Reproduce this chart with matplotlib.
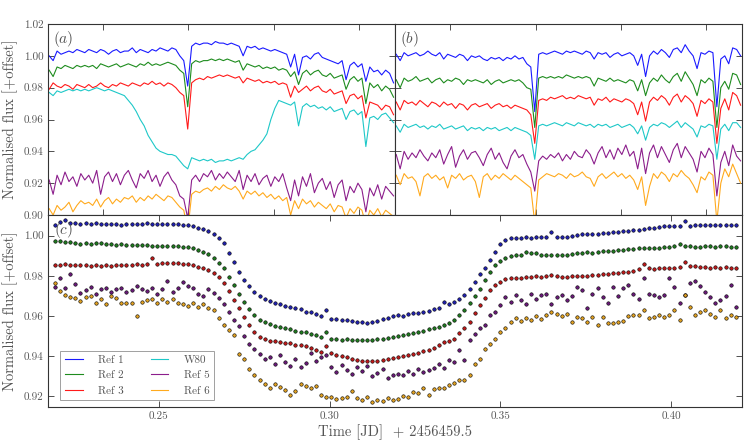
import numpy as np
import matplotlib
matplotlib.use("Agg")
import matplotlib.pyplot as plt

plt.rcParams["font.family"] = "cmr10"
plt.rcParams["mathtext.fontset"] = "cm"
plt.rcParams["axes.formatter.use_mathtext"] = True

# ---- panel (a): raw light curves, offset ----
ref1_a = [1.000, 0.997, 1.003, 1.001, 1.002, 1.003, 1.002, 1.004, 1.003, 1.002,
          1.004, 1.003, 1.002, 1.004, 1.003, 1.001, 1.003, 1.004, 1.002, 1.003,
          1.003, 1.005, 1.002, 1.004, 1.003, 1.002, 1.004, 1.003, 1.005, 1.004,
          1.003, 1.005, 1.004, 1.000, 0.997, 0.981, 1.006, 1.008, 1.007, 1.008,
          1.008, 1.007, 1.009, 1.008, 1.008, 1.007, 1.008, 1.007, 1.006, 1.000,
          1.006, 1.005, 1.006, 1.004, 1.005, 1.004, 1.003, 1.004, 1.003, 1.002,
          1.001, 0.993, 1.001, 0.988, 0.999, 1.000, 0.998, 1.001, 1.002, 0.999,
          0.998, 0.997, 0.996, 0.995, 0.997, 0.985, 0.994, 0.996, 0.993, 0.995,
          0.984, 0.993, 0.990, 0.991, 0.988, 0.991, 0.989, 0.983]
ref2_a = [0.991, 0.987, 0.993, 0.992, 0.994, 0.993, 0.992, 0.994, 0.993, 0.994,
          0.993, 0.994, 0.992, 0.995, 0.994, 0.993, 0.994, 0.995, 0.993, 0.994,
          0.995, 0.994, 0.993, 0.995, 0.994, 0.996, 0.994, 0.995, 0.994, 0.995,
          0.996, 0.995, 0.994, 0.991, 0.989, 0.968, 0.995, 0.997, 0.996, 0.997,
          0.997, 0.998, 0.997, 0.998, 0.997, 0.998, 0.997, 0.996, 0.997, 0.991,
          0.995, 0.994, 0.993, 0.994, 0.992, 0.993, 0.992, 0.993, 0.991, 0.992,
          0.991, 0.987, 0.990, 0.982, 0.989, 0.991, 0.988, 0.990, 0.991, 0.988,
          0.987, 0.989, 0.986, 0.987, 0.988, 0.979, 0.985, 0.987, 0.984, 0.986,
          0.970, 0.983, 0.980, 0.982, 0.978, 0.981, 0.979, 0.974]
ref3_a = [0.979, 0.983, 0.981, 0.980, 0.982, 0.981, 0.979, 0.982, 0.981, 0.980,
          0.982, 0.980, 0.981, 0.983, 0.981, 0.980, 0.982, 0.981, 0.983, 0.982,
          0.981, 0.983, 0.982, 0.981, 0.983, 0.982, 0.984, 0.982, 0.983, 0.981,
          0.983, 0.982, 0.980, 0.977, 0.975, 0.954, 0.983, 0.985, 0.986, 0.985,
          0.987, 0.986, 0.987, 0.988, 0.987, 0.988, 0.987, 0.986, 0.987, 0.983,
          0.986, 0.985, 0.984, 0.985, 0.983, 0.984, 0.983, 0.984, 0.982, 0.983,
          0.982, 0.974, 0.981, 0.977, 0.979, 0.981, 0.978, 0.980, 0.981, 0.978,
          0.977, 0.979, 0.976, 0.977, 0.978, 0.970, 0.975, 0.976, 0.973, 0.975,
          0.961, 0.971, 0.970, 0.969, 0.966, 0.969, 0.968, 0.963]
w80_a = [0.977, 0.975, 0.978, 0.977, 0.978, 0.979, 0.978, 0.979, 0.978, 0.979,
         0.978, 0.979, 0.980, 0.979, 0.978, 0.979, 0.978, 0.977, 0.976, 0.975,
         0.972, 0.969, 0.965, 0.960, 0.956, 0.950, 0.946, 0.942, 0.940, 0.939,
         0.938, 0.938, 0.937, 0.934, 0.931, 0.929, 0.936, 0.935, 0.934, 0.935,
         0.934, 0.935, 0.933, 0.934, 0.934, 0.935, 0.934, 0.935, 0.936, 0.935,
         0.938, 0.940, 0.941, 0.944, 0.947, 0.951, 0.960, 0.967, 0.972, 0.971,
         0.970, 0.969, 0.971, 0.956, 0.968, 0.970, 0.968, 0.969, 0.967, 0.968,
         0.966, 0.968, 0.965, 0.966, 0.967, 0.960, 0.965, 0.966, 0.963, 0.965,
         0.943, 0.961, 0.962, 0.960, 0.963, 0.964, 0.961, 0.958]
ref5_a = [0.922, 0.913, 0.925, 0.919, 0.927, 0.921, 0.924, 0.918, 0.926, 0.922,
          0.925, 0.920, 0.928, 0.913, 0.924, 0.927, 0.921, 0.926, 0.919, 0.925,
          0.928, 0.922, 0.917, 0.926, 0.923, 0.928, 0.921, 0.925, 0.918, 0.924,
          0.927, 0.922, 0.919, 0.912, 0.910, 0.898, 0.922, 0.925, 0.921, 0.926,
          0.924, 0.928, 0.922, 0.926, 0.923, 0.927, 0.924, 0.921, 0.928, 0.916,
          0.925, 0.921, 0.926, 0.919, 0.923, 0.925, 0.918, 0.924, 0.921, 0.926,
          0.917, 0.909, 0.922, 0.912, 0.924, 0.918, 0.926, 0.914, 0.920, 0.923,
          0.916, 0.921, 0.911, 0.919, 0.922, 0.909, 0.918, 0.914, 0.920, 0.916,
          0.902, 0.917, 0.912, 0.919, 0.910, 0.918, 0.915, 0.912]
ref6_a = [0.904, 0.900, 0.906, 0.903, 0.905, 0.908, 0.902, 0.906, 0.909, 0.907,
          0.908, 0.906, 0.910, 0.905, 0.909, 0.911, 0.907, 0.910, 0.908, 0.911,
          0.910, 0.912, 0.908, 0.911, 0.909, 0.912, 0.910, 0.913, 0.911, 0.909,
          0.912, 0.911, 0.908, 0.905, 0.903, 0.890, 0.913, 0.915, 0.914, 0.916,
          0.917, 0.915, 0.918, 0.916, 0.919, 0.917, 0.916, 0.918, 0.915, 0.910,
          0.915, 0.913, 0.915, 0.912, 0.914, 0.911, 0.913, 0.910, 0.912, 0.909,
          0.911, 0.900, 0.909, 0.904, 0.910, 0.907, 0.909, 0.905, 0.908, 0.906,
          0.904, 0.907, 0.902, 0.906, 0.905, 0.898, 0.904, 0.901, 0.905, 0.903,
          0.894, 0.903, 0.900, 0.904, 0.899, 0.903, 0.901, 0.899]

# ---- panel (b): detrended light curves, offset ----
ref1_b = [1.001, 0.997, 1.002, 1.000, 1.001, 1.002, 1.000, 1.001, 1.003, 1.001,
          1.000, 1.002, 0.998, 1.001, 1.000, 0.999, 1.001, 1.000, 0.997, 1.000,
          0.999, 1.000, 0.998, 0.997, 0.999, 0.998, 0.999, 0.997, 0.999, 0.998,
          1.000, 0.998, 0.999, 0.995, 0.993, 0.965, 1.001, 1.002, 1.001, 1.002,
          1.003, 1.002, 1.001, 1.003, 1.002, 1.003, 1.002, 1.001, 1.003, 1.002,
          0.998, 1.002, 1.001, 1.002, 0.999, 1.001, 1.002, 1.000, 1.001, 1.002,
          1.000, 0.994, 1.001, 0.987, 1.000, 1.003, 1.001, 1.004, 1.002, 0.999,
          1.004, 1.005, 1.002, 1.007, 1.003, 1.000, 0.992, 1.002, 1.001, 1.003,
          1.002, 0.968, 0.998, 1.000, 0.995, 1.005, 1.004, 1.000]
ref2_b = [0.985, 0.980, 0.986, 0.984, 0.985, 0.987, 0.984, 0.985, 0.986, 0.983,
          0.985, 0.986, 0.983, 0.985, 0.984, 0.986, 0.985, 0.982, 0.985, 0.984,
          0.985, 0.984, 0.983, 0.985, 0.982, 0.984, 0.985, 0.983, 0.984, 0.985,
          0.984, 0.985, 0.983, 0.980, 0.979, 0.955, 0.986, 0.987, 0.986, 0.987,
          0.986, 0.987, 0.986, 0.988, 0.987, 0.986, 0.987, 0.986, 0.987, 0.986,
          0.981, 0.986, 0.985, 0.984, 0.986, 0.984, 0.985, 0.984, 0.983, 0.985,
          0.984, 0.978, 0.985, 0.975, 0.983, 0.986, 0.984, 0.988, 0.985, 0.983,
          0.987, 0.989, 0.984, 0.990, 0.986, 0.982, 0.975, 0.985, 0.983, 0.986,
          0.984, 0.955, 0.980, 0.984, 0.979, 0.989, 0.988, 0.982]
ref3_b = [0.971, 0.966, 0.972, 0.970, 0.971, 0.969, 0.972, 0.970, 0.968, 0.971,
          0.970, 0.968, 0.971, 0.969, 0.970, 0.967, 0.970, 0.969, 0.966, 0.969,
          0.970, 0.968, 0.969, 0.970, 0.967, 0.969, 0.970, 0.968, 0.969, 0.967,
          0.969, 0.968, 0.967, 0.966, 0.963, 0.945, 0.972, 0.973, 0.972, 0.974,
          0.973, 0.974, 0.975, 0.973, 0.974, 0.973, 0.975, 0.974, 0.973, 0.974,
          0.969, 0.973, 0.972, 0.974, 0.971, 0.973, 0.972, 0.971, 0.973, 0.972,
          0.970, 0.963, 0.971, 0.959, 0.971, 0.974, 0.972, 0.975, 0.973, 0.969,
          0.974, 0.976, 0.971, 0.975, 0.973, 0.970, 0.962, 0.972, 0.970, 0.973,
          0.971, 0.945, 0.967, 0.973, 0.966, 0.977, 0.975, 0.969]
w80_b = [0.956, 0.952, 0.957, 0.955, 0.956, 0.957, 0.955, 0.956, 0.954, 0.956,
         0.955, 0.957, 0.954, 0.955, 0.956, 0.954, 0.955, 0.956, 0.953, 0.955,
         0.954, 0.955, 0.953, 0.955, 0.954, 0.955, 0.953, 0.954, 0.955, 0.953,
         0.955, 0.954, 0.953, 0.952, 0.950, 0.935, 0.956, 0.957, 0.956, 0.957,
         0.958, 0.957, 0.956, 0.958, 0.957, 0.956, 0.958, 0.957, 0.956, 0.957,
         0.955, 0.957, 0.956, 0.957, 0.955, 0.956, 0.957, 0.955, 0.956, 0.957,
         0.955, 0.951, 0.956, 0.947, 0.955, 0.957, 0.956, 0.958, 0.957, 0.955,
         0.957, 0.959, 0.955, 0.958, 0.956, 0.954, 0.949, 0.956, 0.955, 0.957,
         0.956, 0.935, 0.954, 0.957, 0.953, 0.958, 0.958, 0.955]
ref5_b = [0.938, 0.929, 0.940, 0.935, 0.939, 0.936, 0.941, 0.937, 0.934, 0.939,
          0.936, 0.941, 0.932, 0.938, 0.943, 0.930, 0.937, 0.941, 0.935, 0.939,
          0.940, 0.936, 0.931, 0.938, 0.942, 0.935, 0.939, 0.933, 0.929, 0.937,
          0.941, 0.936, 0.938, 0.932, 0.927, 0.915, 0.934, 0.937, 0.935, 0.938,
          0.936, 0.939, 0.934, 0.938, 0.935, 0.940, 0.937, 0.936, 0.941, 0.938,
          0.932, 0.939, 0.943, 0.936, 0.941, 0.935, 0.942, 0.938, 0.944, 0.937,
          0.940, 0.929, 0.942, 0.926, 0.939, 0.944, 0.936, 0.943, 0.938, 0.933,
          0.941, 0.945, 0.936, 0.943, 0.939, 0.935, 0.927, 0.940, 0.936, 0.942,
          0.938, 0.912, 0.933, 0.940, 0.931, 0.944, 0.937, 0.934]
ref6_b = [0.925, 0.919, 0.926, 0.923, 0.924, 0.921, 0.912, 0.924, 0.926, 0.923,
          0.925, 0.922, 0.924, 0.917, 0.925, 0.923, 0.926, 0.922, 0.924, 0.925,
          0.921, 0.911, 0.924, 0.926, 0.922, 0.925, 0.923, 0.926, 0.924, 0.922,
          0.925, 0.923, 0.921, 0.919, 0.917, 0.895, 0.922, 0.924, 0.926, 0.925,
          0.924, 0.926, 0.925, 0.923, 0.926, 0.924, 0.925, 0.927, 0.924, 0.923,
          0.918, 0.924, 0.926, 0.923, 0.925, 0.927, 0.924, 0.926, 0.923, 0.925,
          0.922, 0.916, 0.924, 0.906, 0.918, 0.926, 0.923, 0.927, 0.925, 0.921,
          0.926, 0.924, 0.928, 0.925, 0.923, 0.919, 0.914, 0.924, 0.922, 0.927,
          0.925, 0.896, 0.920, 0.929, 0.924, 0.932, 0.926, 0.920]

# ---- panel (c): W80 divided by each reference, offset ----
t_start = 0.2195   # first exposure, JD - 2456459.5
t_step = 0.0015    # cadence

ref1_c = [1.0055, 1.0068, 1.0078, 1.0062, 1.0064, 1.0060, 1.0062, 1.0058, 1.0061, 1.0059,
          1.0056, 1.0060, 1.0058, 1.0055, 1.0059, 1.0057, 1.0060, 1.0058, 1.0062, 1.0059,
          1.0057, 1.0060, 1.0058, 1.0056, 1.0059, 1.0055, 1.0052, 1.0047, 1.0040, 1.0033,
          1.0023, 1.0008, 0.9990, 0.9962, 0.9912, 0.9870, 0.9820, 0.9780, 0.9750, 0.9720,
          0.9700, 0.9684, 0.9674, 0.9663, 0.9658, 0.9651, 0.9646, 0.9638, 0.9633, 0.9621,
          0.9618, 0.9611, 0.9600, 0.9629, 0.9584, 0.9583, 0.9578, 0.9579, 0.9574, 0.9571,
          0.9568, 0.9566, 0.9571, 0.9576, 0.9583, 0.9591, 0.9599, 0.9604, 0.9602, 0.9610,
          0.9613, 0.9616, 0.9621, 0.9626, 0.9633, 0.9641, 0.9668, 0.9658, 0.9668, 0.9684,
          0.9704, 0.9734, 0.9770, 0.9807, 0.9840, 0.9879, 0.9920, 0.9957, 0.9978, 0.9990,
          0.9990, 0.9988, 0.9992, 0.9990, 0.9993, 0.9991, 0.9994, 1.0017, 0.9993, 0.9995,
          0.9995, 1.0000, 1.0004, 1.0008, 1.0010, 1.0007, 1.0010, 1.0013, 1.0015, 1.0018,
          1.0020, 1.0022, 1.0025, 1.0028, 1.0030, 1.0033, 1.0037, 1.0040, 1.0043, 1.0046,
          1.0050, 1.0049, 1.0047, 1.0073, 1.0050, 1.0052, 1.0053, 1.0051, 1.0054, 1.0052,
          1.0053, 1.0051, 1.0054, 1.0053]
ref2_c = [0.9973, 0.9972, 0.9970, 0.9968, 0.9966, 0.9960, 0.9963, 0.9961, 0.9962, 0.9962,
          0.9958, 0.9960, 0.9956, 0.9957, 0.9955, 0.9953, 0.9954, 0.9952, 0.9953, 0.9951,
          0.9950, 0.9951, 0.9948, 0.9947, 0.9948, 0.9945, 0.9942, 0.9937, 0.9929, 0.9918,
          0.9907, 0.9887, 0.9865, 0.9837, 0.9796, 0.9754, 0.9712, 0.9668, 0.9634, 0.9604,
          0.9579, 0.9568, 0.9558, 0.9551, 0.9545, 0.9538, 0.9533, 0.9526, 0.9521, 0.9518,
          0.9511, 0.9505, 0.9495, 0.9518, 0.9488, 0.9485, 0.9483, 0.9485, 0.9481, 0.9480,
          0.9480, 0.9481, 0.9483, 0.9485, 0.9488, 0.9491, 0.9495, 0.9501, 0.9505, 0.9511,
          0.9514, 0.9521, 0.9526, 0.9533, 0.9538, 0.9546, 0.9554, 0.9563, 0.9579, 0.9604,
          0.9629, 0.9663, 0.9699, 0.9737, 0.9779, 0.9817, 0.9854, 0.9874, 0.9890, 0.9900,
          0.9904, 0.9906, 0.9917, 0.9915, 0.9916, 0.9906, 0.9904, 0.9905, 0.9903, 0.9905,
          0.9904, 0.9908, 0.9912, 0.9915, 0.9917, 0.9916, 0.9920, 0.9922, 0.9925, 0.9926,
          0.9928, 0.9930, 0.9933, 0.9935, 0.9937, 0.9938, 0.9940, 0.9941, 0.9940, 0.9943,
          0.9945, 0.9947, 0.9957, 0.9950, 0.9948, 0.9946, 0.9945, 0.9947, 0.9948, 0.9946,
          0.9947, 0.9949, 0.9946, 0.9945]
ref3_c = [0.9852, 0.9855, 0.9858, 0.9853, 0.9856, 0.9852, 0.9854, 0.9851, 0.9853, 0.9850,
          0.9852, 0.9849, 0.9853, 0.9855, 0.9852, 0.9856, 0.9858, 0.9855, 0.9860, 0.9890,
          0.9861, 0.9863, 0.9862, 0.9864, 0.9862, 0.9860, 0.9857, 0.9852, 0.9845, 0.9838,
          0.9829, 0.9815, 0.9795, 0.9765, 0.9724, 0.9679, 0.9638, 0.9596, 0.9554, 0.9521,
          0.9496, 0.9484, 0.9478, 0.9474, 0.9471, 0.9468, 0.9465, 0.9458, 0.9455, 0.9451,
          0.9441, 0.9431, 0.9421, 0.9451, 0.9418, 0.9408, 0.9401, 0.9395, 0.9388, 0.9383,
          0.9378, 0.9375, 0.9375, 0.9378, 0.9383, 0.9388, 0.9391, 0.9396, 0.9401, 0.9408,
          0.9413, 0.9418, 0.9425, 0.9431, 0.9441, 0.9454, 0.9471, 0.9478, 0.9488, 0.9513,
          0.9538, 0.9571, 0.9613, 0.9654, 0.9691, 0.9729, 0.9754, 0.9770, 0.9782, 0.9787,
          0.9790, 0.9790, 0.9793, 0.9795, 0.9799, 0.9796, 0.9800, 0.9803, 0.9797, 0.9796,
          0.9795, 0.9797, 0.9799, 0.9800, 0.9800, 0.9803, 0.9806, 0.9808, 0.9811, 0.9813,
          0.9815, 0.9817, 0.9820, 0.9826, 0.9833, 0.9857, 0.9837, 0.9836, 0.9840, 0.9838,
          0.9837, 0.9841, 0.9843, 0.9870, 0.9850, 0.9848, 0.9845, 0.9843, 0.9840, 0.9842,
          0.9840, 0.9843, 0.9841, 0.9840]
ref5_c = [0.9745, 0.9790, 0.9740, 0.9810, 0.9760, 0.9715, 0.9728, 0.9745, 0.9712, 0.9735,
          0.9740, 0.9722, 0.9735, 0.9742, 0.9720, 0.9730, 0.9748, 0.9735, 0.9725, 0.9738,
          0.9712, 0.9735, 0.9775, 0.9718, 0.9740, 0.9770, 0.9748, 0.9740, 0.9712, 0.9700,
          0.9735, 0.9715, 0.9690, 0.9660, 0.9620, 0.9580, 0.9550, 0.9500, 0.9460, 0.9435,
          0.9410, 0.9385, 0.9395, 0.9360, 0.9405, 0.9370, 0.9350, 0.9385, 0.9345, 0.9365,
          0.9415, 0.9375, 0.9395, 0.9405, 0.9345, 0.9320, 0.9355, 0.9330, 0.9310, 0.9345,
          0.9325, 0.9350, 0.9300, 0.9315, 0.9335, 0.9290, 0.9305, 0.9310, 0.9305, 0.9325,
          0.9310, 0.9335, 0.9320, 0.9332, 0.9340, 0.9363, 0.9340, 0.9380, 0.9372, 0.9430,
          0.9380, 0.9480, 0.9510, 0.9538, 0.9555, 0.9604, 0.9620, 0.9654, 0.9696, 0.9671,
          0.9704, 0.9680, 0.9662, 0.9712, 0.9687, 0.9704, 0.9712, 0.9662, 0.9696, 0.9704,
          0.9679, 0.9700, 0.9745, 0.9728, 0.9640, 0.9712, 0.9740, 0.9695, 0.9665, 0.9745,
          0.9700, 0.9740, 0.9754, 0.9712, 0.9685, 0.9787, 0.9708, 0.9704, 0.9695, 0.9704,
          0.9787, 0.9745, 0.9667, 0.9704, 0.9762, 0.9775, 0.9750, 0.9720, 0.9696, 0.9667,
          0.9679, 0.9700, 0.9754, 0.9645]
ref6_c = [0.9762, 0.9724, 0.9704, 0.9696, 0.9690, 0.9674, 0.9696, 0.9700, 0.9667, 0.9687,
          0.9658, 0.9700, 0.9692, 0.9667, 0.9664, 0.9667, 0.9600, 0.9672, 0.9679, 0.9687,
          0.9667, 0.9687, 0.9670, 0.9684, 0.9667, 0.9662, 0.9650, 0.9667, 0.9646, 0.9662,
          0.9638, 0.9630, 0.9588, 0.9554, 0.9530, 0.9508, 0.9413, 0.9385, 0.9335, 0.9308,
          0.9280, 0.9264, 0.9242, 0.9264, 0.9247, 0.9231, 0.9205, 0.9225, 0.9264, 0.9252,
          0.9242, 0.9252, 0.9205, 0.9197, 0.9197, 0.9189, 0.9192, 0.9197, 0.9228, 0.9192,
          0.9180, 0.9197, 0.9172, 0.9180, 0.9176, 0.9192, 0.9180, 0.9189, 0.9202, 0.9197,
          0.9222, 0.9217, 0.9240, 0.9205, 0.9238, 0.9242, 0.9242, 0.9255, 0.9268, 0.9280,
          0.9280, 0.9305, 0.9363, 0.9385, 0.9438, 0.9463, 0.9485, 0.9518, 0.9538, 0.9568,
          0.9588, 0.9576, 0.9588, 0.9579, 0.9600, 0.9584, 0.9604, 0.9621, 0.9608, 0.9600,
          0.9610, 0.9571, 0.9595, 0.9588, 0.9571, 0.9596, 0.9557, 0.9596, 0.9563, 0.9565,
          0.9571, 0.9576, 0.9600, 0.9607, 0.9604, 0.9629, 0.9588, 0.9596, 0.9604, 0.9596,
          0.9604, 0.9629, 0.9580, 0.9704, 0.9646, 0.9604, 0.9621, 0.9629, 0.9610, 0.9596,
          0.9629, 0.9590, 0.9604, 0.9596]

labels = ["Ref 1", "Ref 2", "Ref 3", "W80", "Ref 5", "Ref 6"]
colors = ["#1a1aff", "#1e8c1e", "#ff1a1a", "#1ec8c8", "#8c1e8c", "#ffaa1e"]
# darker faces for the points of panel (c)
dot_colors = ["#2020b0", "#1e7a1e", "#c01818", "#6a1a7a", "#e0a020"]

GREY = "#555555"


def style_axis(ax):
    ax.tick_params(direction="in", top=True, right=True, length=4, width=0.6,
                   colors="#333333", labelcolor=GREY, labelsize=8, pad=3)
    for s in ax.spines.values():
        s.set_color("#333333")
        s.set_linewidth(0.8)


fig = plt.figure(figsize=(7.46, 4.48), dpi=100)
ax_a = fig.add_axes([0.0643, 0.5201, 0.4651, 0.4263])
ax_b = fig.add_axes([0.5295, 0.5201, 0.4651, 0.4263])
ax_c = fig.add_axes([0.0643, 0.0915, 0.9303, 0.4286])

# Top panels: lines against frame index
handles = []
for ax, series in ((ax_a, [ref1_a, ref2_a, ref3_a, w80_a, ref5_a, ref6_a]),
                   (ax_b, [ref1_b, ref2_b, ref3_b, w80_b, ref5_b, ref6_b])):
    for vals, col, lab in zip(series, colors, labels):
        x = np.linspace(18.5, 220, len(vals))
        ln, = ax.plot(x, vals, color=col, lw=0.8, label=lab)
        if ax is ax_a:
            handles.append(ln)
    ax.set_xlim(17.8, 220.8)
    ax.set_ylim(0.90, 1.02)
    ax.set_xticks([50, 100, 150, 200])
    ax.set_xticklabels([])
    ax.set_yticks(np.arange(0.90, 1.021, 0.02))
    style_axis(ax)

ax_a.set_yticklabels(["%.2f" % v for v in np.arange(0.90, 1.021, 0.02)])
ax_b.set_yticklabels([])
ax_a.set_ylabel("Normalised flux [+offset]", fontsize=10.5, color=GREY)
ax_a.yaxis.set_label_coords(-0.085, 0.5)
ax_a.text(0.015, 0.975, "$(a)$", transform=ax_a.transAxes, ha="left", va="top",
          fontsize=11, color=GREY)
ax_b.text(0.015, 0.975, "$(b)$", transform=ax_b.transAxes, ha="left", va="top",
          fontsize=11, color=GREY)

# Bottom panel: relative photometry as points
for vals, col in zip([ref1_c, ref2_c, ref3_c, ref5_c, ref6_c], dot_colors):
    t = t_start + t_step * np.arange(len(vals))
    ax_c.plot(t, vals, "o", ms=2.5, mfc=col, mec="k", mew=0.4)

ax_c.set_xlim(0.2175, 0.4208)
ax_c.set_ylim(0.9147, 1.0103)
ax_c.set_xticks([0.25, 0.30, 0.35, 0.40])
ax_c.set_xticklabels(["0.25", "0.30", "0.35", "0.40"])
ax_c.set_yticks([0.92, 0.94, 0.96, 0.98, 1.00])
ax_c.set_yticklabels(["0.92", "0.94", "0.96", "0.98", "1.00"])
style_axis(ax_c)
ax_c.set_ylabel("Normalised flux [+offset]", fontsize=10.5, color=GREY)
ax_c.yaxis.set_label_coords(-0.0425, 0.5)
ax_c.set_xlabel("Time [JD]  + 2456459.5", fontsize=10.5, color=GREY, labelpad=3)
ax_c.text(0.008, 0.975, "$(c)$", transform=ax_c.transAxes, ha="left", va="top",
          fontsize=11, color=GREY)

leg = ax_c.legend(handles=handles, labels=labels, ncol=2, loc="lower left",
                  bbox_to_anchor=(0.018, 0.036), borderaxespad=0, fontsize=8,
                  fancybox=False, handlelength=1.6, handletextpad=1.4,
                  columnspacing=2.4, labelspacing=0.5)
leg.get_frame().set_edgecolor("#888888")
leg.get_frame().set_linewidth(0.7)
for txt in leg.get_texts():
    txt.set_color(GREY)

plt.savefig("out.png", dpi=100)
